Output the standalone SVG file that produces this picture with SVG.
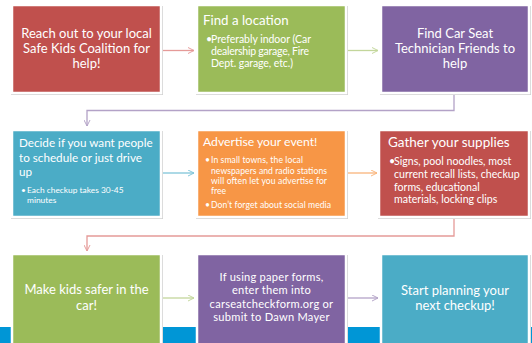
<svg xmlns="http://www.w3.org/2000/svg" width="532" height="343" viewBox="0 0 532 343">
<style>
.box{stroke:#ffffff;stroke-width:2.5}
.sh{fill:#d0d0d0}
text{font-family:Lato,"Open Sans","Liberation Sans",sans-serif;fill:#ffffff}
.c{text-anchor:middle;font-size:13px}
.con{fill:none;stroke-width:1.3}
</style>
<defs>
<marker id="ar" viewBox="0 0 8 8" refX="7" refY="4" markerWidth="7" markerHeight="7" orient="auto" markerUnits="userSpaceOnUse"><path d="M0,0.5 L7,4 L0,7.5" fill="none" stroke="context-stroke" stroke-width="1.1"/></marker>
</defs>
<rect width="532" height="343" fill="#ffffff"/>
<rect x="0" y="327" width="532" height="16" fill="#0096d6"/>
<g id="connectors">
<path class="con" d="M162,50.5 H194" stroke="#e59a98" marker-end="url(#ar)"/>
<path class="con" d="M347,50.5 H378" stroke="#c3d69b" marker-end="url(#ar)"/>
<path class="con" d="M454,94 V110.5 H87 V126" stroke="#b3a2c7" marker-end="url(#ar)"/>
<path class="con" d="M162,173 H194" stroke="#7fc4d8" marker-end="url(#ar)"/>
<path class="con" d="M347,173 H377" stroke="#f9b47a" marker-end="url(#ar)"/>
<path class="con" d="M454,218 V236 H87 V251" stroke="#e59a98" marker-end="url(#ar)"/>
<path class="con" d="M162,298 H194" stroke="#c3d69b" marker-end="url(#ar)"/>
<path class="con" d="M347,298 H378" stroke="#b3a2c7" marker-end="url(#ar)"/>
</g>
<g id="n1">
<rect class="sh" x="11" y="6" width="152" height="89"/>
<rect class="box" x="12" y="5" width="149" height="88" fill="#c0504d"/>
<text class="c" x="86.5" y="38">Reach out to your local</text>
<text class="c" x="86.5" y="53">Safe Kids Coalition for</text>
<text class="c" x="86.5" y="68">help!</text>
</g>
<g id="n2">
<rect class="sh" x="196" y="6" width="152" height="89"/>
<rect class="box" x="197" y="5" width="149" height="88" fill="#9bbb59"/>
<text x="203" y="25" style="font-size:13.3px">Find a location</text>
<g style="font-size:10.5px">
<text x="206" y="43">•</text>
<text x="211" y="43" textLength="100" lengthAdjust="spacing">Preferably indoor (Car</text>
<text x="211" y="55" textLength="98" lengthAdjust="spacing">dealership garage, Fire</text>
<text x="211" y="67" textLength="82" lengthAdjust="spacing">Dept. garage, etc.)</text>
</g>
</g>
<g id="n3">
<rect class="sh" x="380" y="6" width="151" height="89"/>
<rect class="box" x="381" y="5" width="148" height="88" fill="#8064a2"/>
<text class="c" x="455" y="38">Find Car Seat</text>
<text class="c" x="455" y="53">Technician Friends to</text>
<text class="c" x="455" y="68">help</text>
</g>
<g id="n4">
<rect class="sh" x="11" y="131" width="152" height="88"/>
<rect class="box" x="12" y="130" width="149" height="87" fill="#4bacc6"/>
<g style="font-size:11.7px">
<text x="19" y="147">Decide if you want people</text>
<text x="19" y="162">to schedule or just drive</text>
<text x="19" y="176">up</text>
</g>
<g style="font-size:8.4px">
<text x="21" y="193">•</text>
<text x="27" y="193">Each checkup takes 30-45</text>
<text x="27" y="203">minutes</text>
</g>
</g>
<g id="n5">
<rect class="sh" x="196" y="131" width="152" height="88"/>
<rect class="box" x="197" y="130" width="149" height="87" fill="#f79646"/>
<text x="203" y="146" style="font-size:12.2px">Advertise your event!</text>
<g style="font-size:8.6px">
<text x="205" y="163">•</text>
<text x="211" y="163" textLength="92" lengthAdjust="spacing">In small towns, the local</text>
<text x="211" y="174" textLength="116" lengthAdjust="spacing">newspapers and radio stations</text>
<text x="211" y="184" textLength="116" lengthAdjust="spacing">will often let you advertise for</text>
<text x="211" y="194">free</text>
<text x="205" y="208">•</text>
<text x="211" y="208" textLength="120" lengthAdjust="spacing">Don’t forget about social media</text>
</g>
</g>
<g id="n6">
<rect class="sh" x="378" y="131" width="153" height="88"/>
<rect class="box" x="379" y="130" width="150" height="87" fill="#c0504d"/>
<text x="388" y="147" style="font-size:13.5px">Gather your supplies</text>
<g style="font-size:10.6px">
<text x="389" y="165">•</text>
<text x="394" y="165">Signs, pool noodles, most</text>
<text x="394" y="178">current recall lists, checkup</text>
<text x="394" y="191">forms, educational</text>
<text x="394" y="203">materials, locking clips</text>
</g>
</g>
<g id="n7">
<rect class="sh" x="11" y="255" width="152" height="90"/>
<rect class="box" x="12" y="254" width="149" height="92" fill="#9bbb59"/>
<text class="c" x="86.5" y="294">Make kids safer in the</text>
<text class="c" x="86.5" y="310">car!</text>
</g>
<g id="n8">
<rect class="sh" x="196" y="255" width="152" height="90"/>
<rect class="box" x="197" y="254" width="149" height="92" fill="#8064a2"/>
<g style="font-size:11.1px;letter-spacing:0.25px">
<text class="c" x="271.5" y="281" style="font-size:11.1px">If using paper forms,</text>
<text class="c" x="271.5" y="294.3" style="font-size:11.1px">enter them into</text>
<text class="c" x="271.5" y="307.6" style="font-size:11.1px">carseatcheckform.org or</text>
<text class="c" x="271.5" y="321" style="font-size:11.1px">submit to Dawn Mayer</text>
</g>
</g>
<g id="n9">
<rect class="sh" x="380" y="255" width="151" height="90"/>
<rect class="box" x="381" y="254" width="148" height="92" fill="#4bacc6"/>
<text class="c" x="455" y="295">Start planning your</text>
<text class="c" x="455" y="310">next checkup!</text>
</g>
</svg>
